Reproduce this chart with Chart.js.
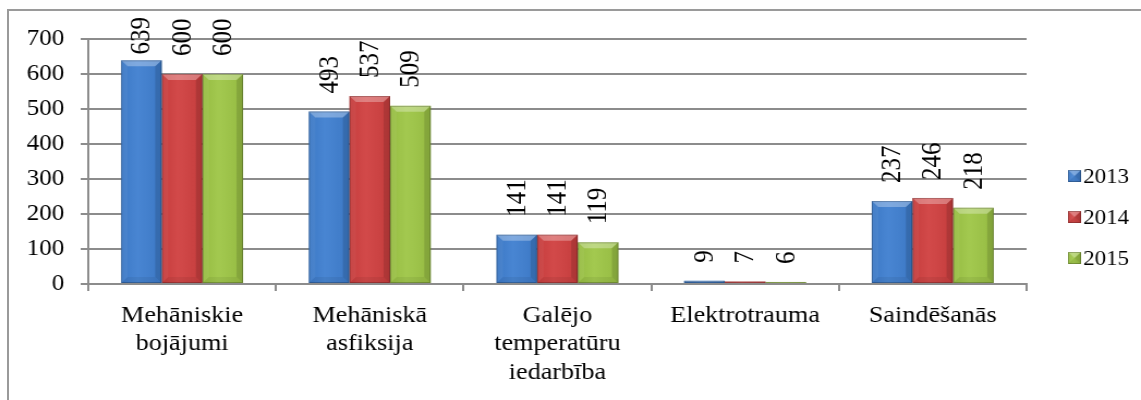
<!DOCTYPE html>
<html>
<head>
<meta charset="utf-8">
<script src="https://cdn.jsdelivr.net/npm/chart.js@4"></script>
<style>
    html, body { margin: 0; padding: 0; background: #fff; overflow: hidden; }
    #wrap { position: relative; width: 1141px; height: 400px; }
    #frame { position: absolute; left: 7px; top: 9px; right: -4px; bottom: -4px; border-top: 2px solid #9a9a9a; border-left: 2px solid #9a9a9a; }
    #chart { position: absolute; left: 0; top: 0; }
</style>
</head>
<body>
<div id="wrap">
    <div id="frame"></div>
    <canvas id="chart" width="1047" height="400" style="width:1141px;height:400px"></canvas>
</div>
<script>
// Chart data
const categories = [['Mehāniskie', 'bojājumi'], ['Mehāniskā', 'asfiksija'], ['Galējo', 'temperatūru', 'iedarbība'], 'Elektrotrauma', 'Saindēšanās'];
const years = ['2013', '2014', '2015'];
const values2013 = [639, 493, 141, 9, 237];
const values2014 = [600, 537, 141, 7, 246];
const values2015 = [600, 509, 119, 6, 218];
const yTicks = [0, 100, 200, 300, 400, 500, 600, 700];

const seriesColors = ['#3f7fd0', '#d04040', '#9ec646'];
const FONT = '"Liberation Serif", "Times New Roman", serif';

/**
 * Bevel look on every bar (light top slant, darker right edge)
 */
function drawBevel(ctx, left, top, right, bottom) {
    const h = bottom - top;
    const w = right - left;
    const b = Math.min(6, h / 2, w / 2);
    if (h <= 0) return;

    const poly = (pts, fill) => {
        ctx.beginPath();
        ctx.moveTo(pts[0][0], pts[0][1]);
        for (let i = 1; i < pts.length; i++) ctx.lineTo(pts[i][0], pts[i][1]);
        ctx.closePath();
        ctx.fillStyle = fill;
        ctx.fill();
    };

    // soft horizontal shading across the face
    const g = ctx.createLinearGradient(left, 0, right, 0);
    g.addColorStop(0, 'rgba(0,0,0,0.05)');
    g.addColorStop(0.4, 'rgba(255,255,255,0.05)');
    g.addColorStop(1, 'rgba(0,0,0,0.06)');
    ctx.fillStyle = g;
    ctx.fillRect(left, top, w, h);

    poly([[left, top], [right, top], [right - b, top + b], [left + b, top + b]], 'rgba(255,255,255,0.30)');
    poly([[left, top], [left + b, top + b], [left + b, bottom - b], [left, bottom]], 'rgba(255,255,255,0.05)');
    poly([[right, top], [right, bottom], [right - b, bottom - b], [right - b, top + b]], 'rgba(0,0,0,0.12)');
    poly([[left, bottom], [right, bottom], [right - b, bottom - b], [left + b, bottom - b]], 'rgba(0,0,0,0.06)');

    ctx.strokeStyle = 'rgba(0,0,0,0.22)';
    ctx.lineWidth = 1;
    ctx.strokeRect(left + 0.5, top + 0.5, w - 1, h - 1);
}

const bevelPlugin = {
    id: 'bevel',
    afterDatasetsDraw(chart) {
        const ctx = chart.ctx;
        ctx.save();
        chart.data.datasets.forEach((ds, i) => {
            chart.getDatasetMeta(i).data.forEach(el => {
                const p = el.getProps(['x', 'y', 'base', 'width'], true);
                drawBevel(ctx, p.x - p.width / 2, p.y, p.x + p.width / 2, p.base);
            });
        });
        ctx.restore();
    }
};

/**
 * Rotated value labels above the bars
 */
const valueLabels = {
    id: 'valueLabels',
    afterDatasetsDraw(chart) {
        const ctx = chart.ctx;
        ctx.save();
        ctx.font = '25px ' + FONT;
        ctx.fillStyle = '#000';
        ctx.textAlign = 'left';
        ctx.textBaseline = 'middle';
        chart.data.datasets.forEach((ds, i) => {
            chart.getDatasetMeta(i).data.forEach((el, j) => {
                const text = String(ds.data[j]);
                const tw = ctx.measureText(text).width;
                // keep the label inside the frame when the bar is tall
                const start = Math.max(el.y - 18, 17 + tw);
                ctx.save();
                ctx.translate(el.x, start);
                ctx.rotate(-Math.PI / 2);
                ctx.fillText(text, 0, 1);
                ctx.restore();
            });
        });
        ctx.restore();
    }
};

/**
 * Legend with small bevelled squares on the right
 */
const legendBoxes = {
    id: 'legendBoxes',
    afterDraw(chart) {
        const ctx = chart.ctx;
        const x = chart.chartArea.right + 38;
        ctx.save();
        ctx.font = '21px ' + FONT;
        ctx.textAlign = 'left';
        ctx.textBaseline = 'middle';
        chart.data.datasets.forEach((ds, i) => {
            const cy = 176 + i * 41;
            ctx.fillStyle = ds.backgroundColor;
            ctx.fillRect(x, cy - 6, 12, 12);
            drawBevel(ctx, x, cy - 6, x + 12, cy + 6);
            ctx.fillStyle = '#000';
            ctx.fillText(ds.label, x + 14, cy + 1);
        });
        ctx.restore();
    }
};

function initializeChart() {
    const canvas = document.getElementById('chart');
    const seriesValues = [values2013, values2014, values2015];

    new Chart(canvas.getContext('2d'), {
        type: 'bar',
        data: {
            labels: categories,
            datasets: years.map((year, i) => ({
                label: year,
                data: seriesValues[i],
                backgroundColor: seriesColors[i],
                borderWidth: 0,
                categoryPercentage: 0.65,
                barPercentage: 1.0
            }))
        },
        options: {
            responsive: false,
            devicePixelRatio: 1,
            animation: false,
            layout: {
                padding: { left: 0, right: 105, top: 39, bottom: 0 }
            },
            plugins: {
                legend: { display: false },
                tooltip: { enabled: false }
            },
            scales: {
                y: {
                    min: 0,
                    max: yTicks[yTicks.length - 1],
                    afterFit: scale => { scale.width = 81; },
                    afterBuildTicks: scale => { scale.ticks = yTicks.map(v => ({ value: v })); },
                    border: { color: '#8c8c8c', width: 2 },
                    grid: {
                        color: '#8c8c8c',
                        lineWidth: 2,
                        tickLength: 7
                    },
                    ticks: {
                        color: '#000',
                        padding: 15,
                        font: { family: FONT, size: 23 }
                    }
                },
                x: {
                    offset: true,
                    afterFit: scale => { scale.height = 116; },
                    border: { color: '#8c8c8c', width: 2 },
                    grid: {
                        offset: true,
                        drawOnChartArea: false,
                        color: '#8c8c8c',
                        lineWidth: 2,
                        tickLength: 7
                    },
                    ticks: {
                        color: '#000',
                        padding: 10,
                        maxRotation: 0,
                        autoSkip: false,
                        font: { family: FONT, size: 24, lineHeight: 1.2 }
                    }
                }
            }
        },
        plugins: [bevelPlugin, valueLabels, legendBoxes]
    });
}

document.addEventListener('DOMContentLoaded', initializeChart);
</script>
</body>
</html>
